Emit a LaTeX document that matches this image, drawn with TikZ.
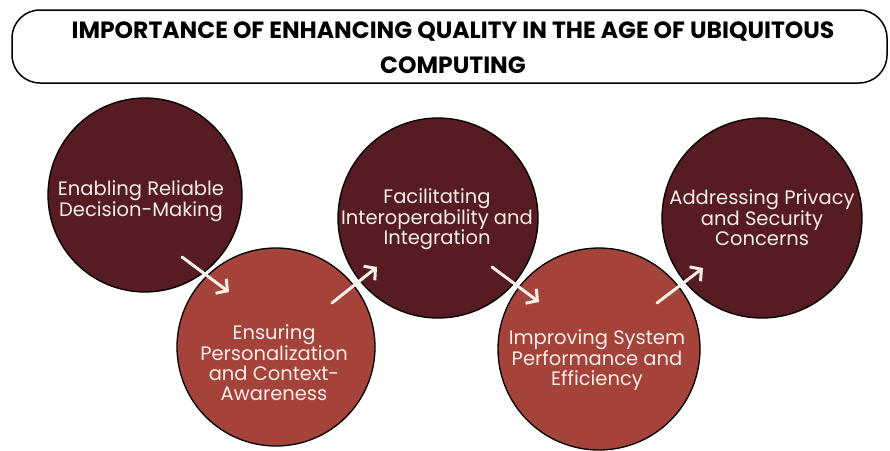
\documentclass[tikz,border=0pt]{standalone}
\usepackage{fontspec}
\setmainfont{Poppins}
\usetikzlibrary{arrows.meta}
\definecolor{wine}{HTML}{561C22}
\definecolor{brick}{HTML}{A4433A}
\definecolor{cream}{HTML}{F6EEE9}

\begin{document}
\begin{tikzpicture}[x=1pt, y=-1pt,
  ball/.style={circle, draw=black, line width=1.3pt, inner sep=0pt},
  dark/.style={ball, fill=wine},
  light/.style={ball, fill=brick},
  txt/.style={text=cream, align=center, inner sep=0pt, font=\fontsize{19.5}{20}\selectfont},
  flow/.style={draw=cream, line width=3pt, line cap=round, -{Straight Barb[length=8pt,width=18pt]}}]
  \fill[white] (0,0) rectangle (890,450);
  \useasboundingbox (0,0) rectangle (890,450);

  \node (title) [draw, line width=1.5pt, rounded corners=28pt, minimum width=875pt, minimum height=73pt] at (449.5,46.5) {};
  \node (head) [align=center, inner sep=0pt, font=\bfseries\fontsize{23.5}{35}\selectfont] at (453,48) {IMPORTANCE OF ENHANCING QUALITY IN THE AGE OF UBIQUITOUS\\COMPUTING};

  \node (decision) [dark, minimum size=194pt] at (145,195) {};
  \node (context) [light, minimum size=198pt] at (276,347) {};
  \node (interop) [dark, minimum size=200pt] at (438,218) {};
  \node (perform) [light, minimum size=202pt] at (599,349) {};
  \node (privacy) [dark, minimum size=200pt] at (762,218) {};

  \node (t1) [txt] at (141,201) {Enabling Reliable\\Decision-Making};
  \node (t2) [txt] at (274,363) {Ensuring\\Personalization\\and Context-\\Awareness};
  \node (t3) [txt] at (437,219) {Facilitating\\Interoperability and\\Integration};
  \node (t4) [txt] at (597,360) {Improving System\\Performance and\\Efficiency};
  \node (t5) [txt] at (762,218) {Addressing Privacy\\and Security\\Concerns};

  \coordinate (a1) at (182,257);
  \coordinate (b1) at (229,292);
  \coordinate (a2) at (332,303);
  \coordinate (b2) at (377,267);
  \coordinate (a3) at (492,267);
  \coordinate (b3) at (539,302);
  \coordinate (a4) at (657,303);
  \coordinate (b4) at (703,268);
  \draw [flow] (a1) -- (b1);
  \draw [flow] (a2) -- (b2);
  \draw [flow] (a3) -- (b3);
  \draw [flow] (a4) -- (b4);
\end{tikzpicture}
\end{document}
